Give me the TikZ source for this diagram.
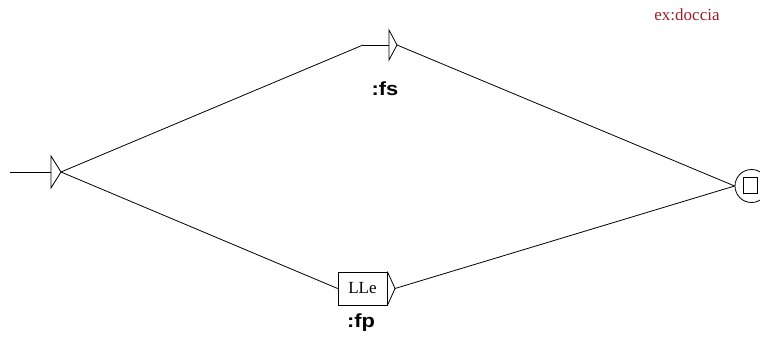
\documentclass[tikz,border=0pt]{standalone}
\usepackage{fontspec}
\newfontfamily\labelfont[FakeStretch=1.15]{Liberation Sans}
\newfontfamily\boxfont{Liberation Serif}
\usetikzlibrary{positioning}
\definecolor{commentred}{RGB}{160,30,40}
\tikzstyle{link} = [line width=0.8pt]

\begin{document}
\begin{tikzpicture}
        [
            x=1pt,y=-1pt,
            box/.style={rectangle,draw=black,line width=0.8pt,minimum width=49pt,minimum height=33pt,inner sep=0pt,font=\boxfont\fontsize{17}{17}\selectfont},
            outname/.style={font=\labelfont\bfseries\fontsize{19}{19}\selectfont},
            final/.style={circle,draw=black,line width=0.8pt,minimum size=33pt,inner sep=0pt},
            finalsq/.style={rectangle,draw=black,line width=0.8pt,minimum width=14pt,minimum height=16pt,inner sep=0pt},
        ]
    \useasboundingbox (0,0) rectangle (760,350);

    % initial state
    \coordinate (init) at (10,172);
    \coordinate (start) at (51,172);
    \coordinate (starttip) at (61,172);
    \draw[link] (init) -- (start);
    \draw[link] (51,156) -- (51,188) -- (starttip) -- cycle;

    % upper path (:fs)
    \coordinate (fsin) at (363,45);
    \coordinate (fsbar) at (389,45);
    \coordinate (fstip) at (397,45);
    \draw[link] (fsin) -- (fsbar);
    \draw[link] (389,30) -- (389,60) -- (fstip) -- cycle;
    \node[outname] (fs) at (385,89) {:fs};

    % lower path (:fp)
    \node[box] (lle) at (362.5,288.5) {LLe};
    \coordinate (fptip) at (395,288.5);
    \draw[link] (lle.north east) -- (fptip) -- (lle.south east);
    \node[outname] (fp) at (361,323) {:fp};

    % final state
    \node[final] (end) at (751.5,186) {};
    \node[finalsq] (endsq) at (750,185) {};

    \draw[link] (starttip) -- (fsin);
    \draw[link] (starttip) -- (lle.west);
    \draw[link] (fstip) -- (end.west);
    \draw[link] (fptip) -- (end.west);

    \node[text=commentred,font=\boxfont\fontsize{17}{17}\selectfont] (title) at (687,15) {ex:doccia};
    \end{tikzpicture}
\end{document}
